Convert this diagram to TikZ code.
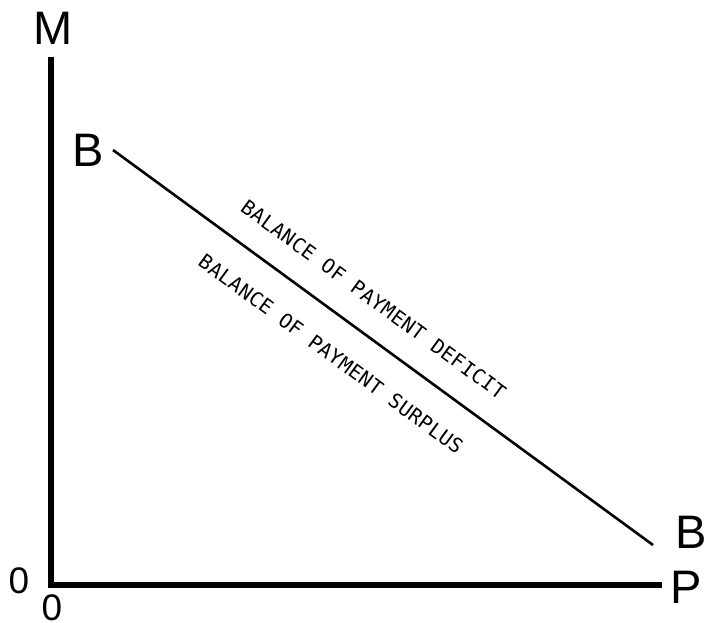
\documentclass[tikz,border=0pt]{standalone}
\usepackage{fontspec}
\setmainfont{Liberation Sans}
\newfontfamily\letterfont[LetterSpace=2]{DejaVu Sans Mono}
\begin{document}
\begin{tikzpicture}[x=1pt,y=-1pt,
  big/.style={inner sep=0pt,anchor=center,font=\fontsize{47}{47}\selectfont},
  zero/.style={inner sep=0pt,anchor=center,font=\fontsize{37}{37}\selectfont},
  axis/.style={line width=6.5pt,line join=miter,line cap=butt},
  curve/.style={line width=2.6pt},
  lab/.style={inner sep=0pt,anchor=center,rotate=-36.2,font=\letterfont\fontsize{20}{20}\selectfont}]
\useasboundingbox (0,0) rectangle (708,622);
\fill[white] (0,0) rectangle (708,622);
\coordinate (top) at (51,57);
\coordinate (orig) at (51,585);
\coordinate (right) at (662,585);
\draw[axis] (top) -- (orig) -- (right);
\coordinate (l1) at (113,150);
\coordinate (l2) at (653,545);
\draw[curve] (l1) -- (l2);
\node[big] (M) at (53,28) {M};
\node[big] (B1) at (88,150) {B};
\node[big] (B2) at (691,532) {B};
\node[big] (P) at (686,587) {P};
\node[zero] (O1) at (19,581) {0};
\node[zero] (O2) at (52,608) {0};
\node[lab] (def) at (373.5,299.5) {BALANCE OF PAYMENT DEFICIT};
\node[lab] (sur) at (331,354) {BALANCE OF PAYMENT SURPLUS};
\end{tikzpicture}
\end{document}
